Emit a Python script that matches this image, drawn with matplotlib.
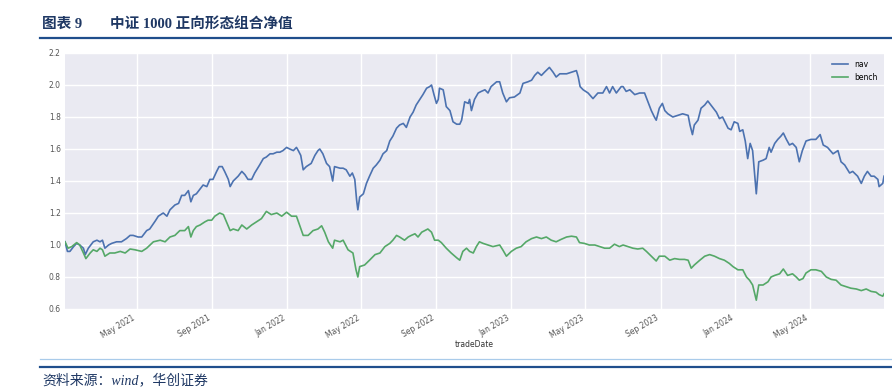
import numpy as np
import pandas as pd
import matplotlib
matplotlib.use("Agg")
import matplotlib.pyplot as plt
import matplotlib.dates as mdates
from matplotlib.lines import Line2D
from matplotlib.ticker import FormatStrFormatter

# values (day offsets counted from the first trade date)
start = pd.Timestamp("2021-01-04")
end_day = 1334

nav_days = [0, 4, 8, 14, 19, 24, 30, 33, 38, 46, 52, 57, 61, 65, 71, 76, 84, 92, 100, 106,
            111, 119, 125, 133, 138, 147, 152, 160, 166, 171, 179, 185, 190, 195, 201, 205, 209, 214, 220, 225,
            231, 236, 241, 247, 251, 256, 260, 266, 269, 274, 282, 288, 293, 298, 304, 309, 317, 323, 328, 334,
            339, 345, 350, 355, 361, 366, 372, 377, 380, 384, 388, 393, 401, 407, 412, 415, 420, 426, 431, 436,
            439, 448, 453, 458, 464, 468, 472, 475, 477, 480, 486, 491, 496, 502, 507, 513, 518, 524, 529, 534,
            540, 545, 551, 556, 562, 567, 572, 578, 583, 589, 594, 597, 601, 605, 608, 610, 616, 619, 621, 627,
            632, 638, 643, 646, 651, 657, 659, 662, 667, 673, 678, 684, 689, 694, 703, 708, 713, 719, 724, 732,
            741, 746, 754, 760, 765, 770, 776, 781, 789, 795, 800, 806, 811, 817, 825, 833, 836, 839, 844, 852,
            860, 868, 876, 882, 887, 892, 898, 906, 909, 914, 920, 928, 936, 944, 949, 955, 960, 963, 968, 973,
            977, 982, 990, 998, 1006, 1015, 1018, 1022, 1025, 1031, 1036, 1042, 1047, 1052, 1061, 1066, 1071, 1080, 1085, 1090,
            1096, 1099, 1104, 1108, 1112, 1116, 1120, 1126, 1130, 1137, 1142, 1147, 1150, 1156, 1161, 1166, 1170, 1175, 1180, 1185,
            1191, 1196, 1201, 1207, 1215, 1223, 1230, 1235, 1242, 1251, 1259, 1264, 1270, 1278, 1283, 1291, 1297, 1302, 1307, 1313,
            1318, 1324, 1326, 1332, 1334]
nav_vals = [1.02, 0.96, 0.96, 0.99, 1.01, 1.00, 0.98, 0.94, 0.98, 1.02, 1.03, 1.02, 1.03, 0.98, 1.00, 1.01, 1.02, 1.02, 1.04, 1.06,
            1.06, 1.05, 1.05, 1.09, 1.10, 1.15, 1.18, 1.20, 1.18, 1.22, 1.25, 1.26, 1.31, 1.31, 1.34, 1.27, 1.31, 1.32, 1.35, 1.375,
            1.365, 1.41, 1.41, 1.46, 1.49, 1.49, 1.46, 1.41, 1.365, 1.40, 1.43, 1.46, 1.44, 1.41, 1.41, 1.45, 1.50, 1.54, 1.55, 1.57,
            1.57, 1.58, 1.58, 1.59, 1.61, 1.60, 1.59, 1.61, 1.59, 1.56, 1.47, 1.49, 1.51, 1.56, 1.59, 1.60, 1.57, 1.51, 1.49, 1.40,
            1.49, 1.48, 1.48, 1.47, 1.43, 1.45, 1.41, 1.28, 1.22, 1.30, 1.32, 1.385, 1.43, 1.48, 1.50, 1.53, 1.57, 1.59, 1.65, 1.68,
            1.73, 1.75, 1.76, 1.735, 1.80, 1.83, 1.875, 1.91, 1.94, 1.98, 1.99, 2.00, 1.94, 1.885, 1.91, 1.98, 1.97, 1.91, 1.865, 1.84,
            1.77, 1.755, 1.755, 1.78, 1.895, 1.885, 1.91, 1.84, 1.91, 1.95, 1.96, 1.97, 1.95, 1.99, 2.02, 2.02, 1.95, 1.895, 1.92, 1.925,
            1.95, 2.01, 2.02, 2.03, 2.06, 2.08, 2.06, 2.08, 2.11, 2.08, 2.05, 2.07, 2.07, 2.07, 2.08, 2.09, 2.05, 1.99, 1.97, 1.95,
            1.915, 1.95, 1.95, 1.99, 1.95, 1.99, 1.95, 1.99, 1.99, 1.96, 1.97, 1.94, 1.95, 1.95, 1.90, 1.84, 1.80, 1.78, 1.855, 1.885,
            1.84, 1.82, 1.80, 1.81, 1.82, 1.81, 1.75, 1.69, 1.75, 1.78, 1.855, 1.875, 1.90, 1.875, 1.83, 1.79, 1.80, 1.73, 1.72, 1.77,
            1.76, 1.71, 1.72, 1.65, 1.54, 1.635, 1.59, 1.32, 1.52, 1.53, 1.54, 1.61, 1.58, 1.635, 1.66, 1.68, 1.70, 1.66, 1.625, 1.635,
            1.61, 1.52, 1.59, 1.65, 1.66, 1.66, 1.69, 1.625, 1.61, 1.57, 1.59, 1.52, 1.50, 1.45, 1.46, 1.43, 1.385, 1.43, 1.46, 1.43,
            1.43, 1.41, 1.365, 1.385, 1.43]

bench_days = [0, 5, 11, 19, 24, 30, 34, 41, 46, 52, 57, 61, 65, 73, 81, 90, 98, 106, 114, 125,
              133, 144, 155, 163, 171, 179, 187, 195, 201, 205, 209, 214, 220, 228, 233, 239, 244, 252, 258, 263,
              269, 274, 282, 288, 296, 304, 312, 320, 328, 336, 345, 353, 361, 369, 377, 382, 388, 396, 404, 412,
              418, 423, 429, 436, 439, 448, 453, 461, 469, 474, 477, 480, 488, 496, 505, 513, 521, 529, 534, 540,
              545, 553, 559, 564, 570, 575, 581, 586, 591, 597, 602, 608, 613, 621, 629, 638, 643, 648, 654, 659,
              665, 670, 675, 681, 689, 697, 708, 713, 719, 727, 735, 743, 751, 760, 768, 776, 784, 792, 800, 808,
              817, 825, 833, 838, 846, 854, 863, 871, 879, 887, 895, 903, 909, 917, 925, 933, 941, 947, 955, 963,
              968, 977, 985, 993, 1001, 1009, 1015, 1020, 1025, 1034, 1042, 1050, 1058, 1066, 1074, 1082, 1088, 1096, 1104, 1110,
              1115, 1120, 1126, 1130, 1137, 1145, 1150, 1156, 1164, 1170, 1177, 1185, 1191, 1196, 1202, 1207, 1215, 1223, 1232, 1240,
              1248, 1256, 1264, 1272, 1280, 1289, 1297, 1305, 1313, 1321, 1326, 1332, 1334]
bench_vals = [1.02, 0.98, 0.99, 1.015, 1.00, 0.95, 0.915, 0.95, 0.97, 0.96, 0.98, 0.97, 0.93, 0.95, 0.95, 0.96, 0.95, 0.975, 0.97, 0.96,
              0.98, 1.02, 1.03, 1.02, 1.05, 1.06, 1.09, 1.09, 1.115, 1.05, 1.09, 1.115, 1.125, 1.145, 1.155, 1.155, 1.18, 1.20, 1.19, 1.145,
              1.09, 1.10, 1.09, 1.125, 1.10, 1.125, 1.145, 1.165, 1.21, 1.19, 1.20, 1.18, 1.205, 1.18, 1.18, 1.125, 1.06, 1.06, 1.09, 1.10,
              1.12, 1.08, 1.02, 0.98, 1.03, 1.02, 1.03, 0.97, 0.95, 0.845, 0.80, 0.865, 0.875, 0.905, 0.94, 0.95, 0.99, 1.01, 1.03, 1.06,
              1.05, 1.03, 1.05, 1.06, 1.07, 1.05, 1.08, 1.09, 1.10, 1.08, 1.03, 1.03, 1.015, 0.98, 0.95, 0.92, 0.905, 0.96, 0.98, 0.96,
              0.95, 0.99, 1.02, 1.01, 1.00, 0.99, 1.00, 0.97, 0.93, 0.96, 0.98, 0.99, 1.02, 1.04, 1.05, 1.04, 1.05, 1.03, 1.02, 1.035,
              1.05, 1.055, 1.05, 1.015, 1.01, 1.00, 1.00, 0.99, 0.98, 0.98, 1.005, 0.99, 1.00, 0.99, 0.98, 0.975, 0.98, 0.96, 0.93, 0.90,
              0.93, 0.93, 0.905, 0.915, 0.91, 0.91, 0.905, 0.855, 0.875, 0.905, 0.93, 0.94, 0.93, 0.915, 0.905, 0.885, 0.865, 0.845, 0.845, 0.80,
              0.78, 0.75, 0.655, 0.75, 0.75, 0.77, 0.80, 0.81, 0.82, 0.85, 0.81, 0.82, 0.80, 0.78, 0.79, 0.825, 0.845, 0.845, 0.835, 0.80,
              0.785, 0.78, 0.75, 0.74, 0.73, 0.725, 0.715, 0.725, 0.71, 0.705, 0.69, 0.68, 0.695]

yticks = [0.6, 0.8, 1.0, 1.2, 1.4, 1.6, 1.8, 2.0, 2.2]

nav = pd.Series(nav_vals, index=start + pd.to_timedelta(nav_days, unit="D"))
bench = pd.Series(bench_vals, index=start + pd.to_timedelta(bench_days, unit="D"))

W, H = 892, 392
fig = plt.figure(figsize=(W / 100, H / 100), dpi=100)
fig.patch.set_facecolor("white")

ax = fig.add_axes([65 / W, 1 - 309 / H, (884 - 65) / W, (309 - 53) / H])
ax.set_facecolor("#EAEAF2")
ax.plot(nav.index, nav.values, color="#4C72B0", lw=1.2, label="nav")
ax.plot(bench.index, bench.values, color="#55A868", lw=1.2, label="bench")

ax.set_xlim(start, start + pd.Timedelta(days=end_day))
ax.set_ylim(0.6, 2.2)
ax.set_yticks(yticks)
ax.yaxis.set_major_formatter(FormatStrFormatter("%.1f"))
ax.xaxis.set_major_locator(mdates.MonthLocator(bymonth=[1, 5, 9]))
ax.xaxis.set_major_formatter(mdates.DateFormatter("%b %Y"))
ax.grid(True, color="white", lw=1.0)
ax.set_axisbelow(True)
for s in ax.spines.values():
    s.set_visible(False)
ax.tick_params(length=0, labelsize=5.5, labelcolor="#555555", pad=3)
plt.setp(ax.get_xticklabels(), rotation=30, ha="right")
ax.set_xlabel("tradeDate", fontsize=5.5, color="#333333", labelpad=0)
ax.legend(loc="upper right", frameon=False, fontsize=5.5, handlelength=2.0)

# header / footer decoration
navy = "#1F3864"
title_font = ["Liberation Serif", "Noto Sans CJK SC"]
fig.text(42 / W, 1 - 24 / H, "图表 9", family=title_font, weight="bold",
         fontsize=10.5, color=navy, va="center", ha="left")
fig.text(110 / W, 1 - 24 / H, "中证 1000 正向形态组合净值", family=title_font, weight="bold",
         fontsize=10.5, color=navy, va="center", ha="left")
fig.add_artist(Line2D([40 / W, 1], [1 - 37.5 / H] * 2, color="#1F4E8C", lw=1.6))
fig.add_artist(Line2D([40 / W, 1], [1 - 358.5 / H] * 2, color="#A9CBEA", lw=0.9))
fig.add_artist(Line2D([40 / W, 1], [1 - 366.5 / H] * 2, color="#1F4E8C", lw=1.6))
fig.text(42 / W, 1 - 380 / H, "资料来源：wind，华创证券",
         family=title_font, style="italic",
         fontsize=10, color=navy, va="center", ha="left")

fig.savefig("out.png", dpi=100)
